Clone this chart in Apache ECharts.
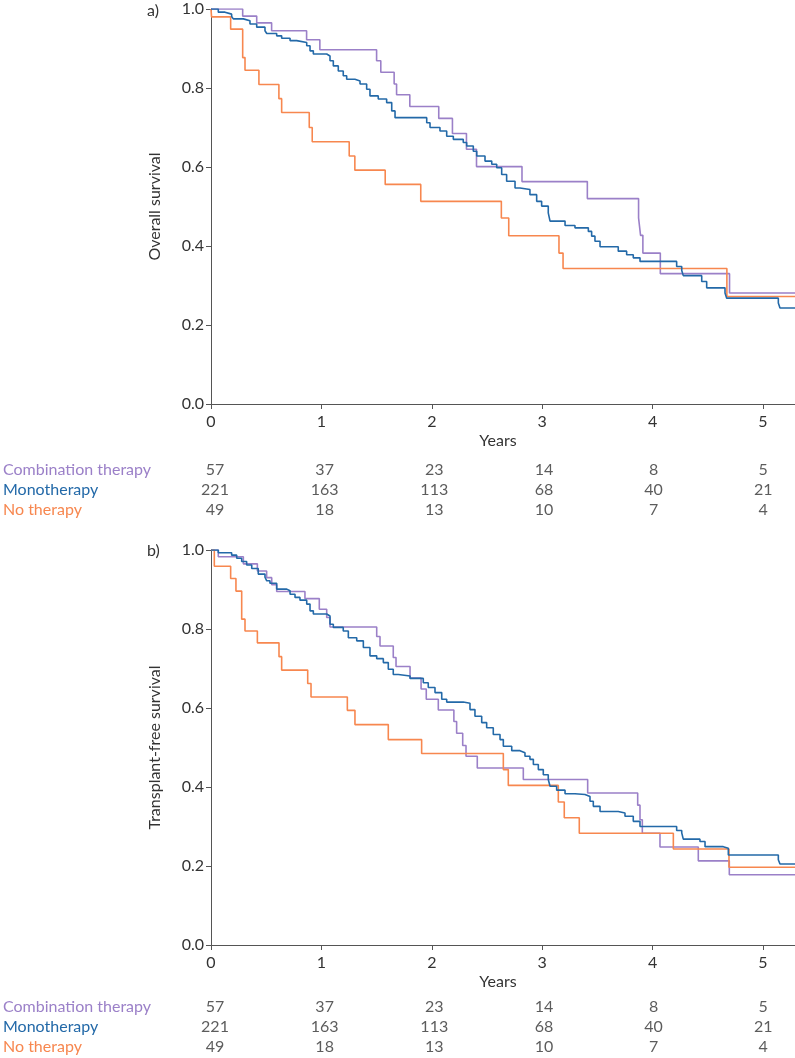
<!DOCTYPE html>
<html>
<head>
<meta charset="utf-8">
<script src="https://cdn.jsdelivr.net/npm/echarts@6/dist/echarts.min.js"></script>
<style>
html,body{margin:0;padding:0;background:#fff;}
#chart{width:795px;height:1058px;}
</style>
</head>
<body>
<div id="chart"></div>
<script>
// ---------- DATA ----------
const yearTicks = [0, 1, 2, 3, 4, 5];
const groups = ['Combination therapy', 'Monotherapy', 'No therapy'];

// numbers at risk (same in both panels)
const riskCombination = [57, 37, 23, 14, 8, 5];
const riskMonotherapy = [221, 163, 113, 68, 40, 21];
const riskNoTherapy = [49, 18, 13, 10, 7, 4];

// Panel a) Overall survival — [years, survival] at each step
const osCombination = [[0,1.0],[0.287,0.982],[0.414,0.965],[0.549,0.945],[0.866,0.922],[0.986,0.897],[1.500,0.869],[1.538,0.840],[1.659,0.810],[1.681,0.783],[1.801,0.753],[2.063,0.723],[2.187,0.685],[2.314,0.645],[2.405,0.601],[2.817,0.563],[3.409,0.520],[3.873,0.471],[3.891,0.427],[3.912,0.382],[4.070,0.330],[4.697,0.281],[5.29,0.281]];
const osMonotherapy = [[0,1.0],[0.066,0.992],[0.127,0.987],[0.187,0.981],[0.202,0.975],[0.293,0.970],[0.353,0.962],[0.414,0.954],[0.489,0.945],[0.505,0.938],[0.595,0.932],[0.640,0.926],[0.716,0.920],[0.776,0.915],[0.867,0.907],[0.897,0.894],[0.927,0.886],[1.048,0.881],[1.078,0.869],[1.108,0.856],[1.153,0.843],[1.198,0.831],[1.229,0.822],[1.304,0.818],[1.350,0.810],[1.410,0.797],[1.440,0.780],[1.515,0.772],[1.591,0.763],[1.637,0.742],[1.667,0.725],[1.954,0.712],[1.984,0.700],[2.074,0.691],[2.135,0.678],[2.195,0.670],[2.285,0.662],[2.316,0.653],[2.376,0.640],[2.407,0.628],[2.482,0.615],[2.543,0.607],[2.588,0.598],[2.633,0.581],[2.678,0.564],[2.754,0.547],[2.799,0.543],[2.889,0.530],[2.950,0.513],[2.995,0.501],[3.055,0.484],[3.071,0.463],[3.207,0.452],[3.297,0.446],[3.418,0.437],[3.448,0.425],[3.478,0.412],[3.524,0.398],[3.689,0.387],[3.765,0.378],[3.825,0.370],[3.886,0.361],[4.218,0.348],[4.264,0.338],[4.278,0.325],[4.445,0.310],[4.490,0.294],[4.656,0.281],[4.671,0.268],[5.139,0.256],[5.154,0.243],[5.29,0.243]];
const osNoTherapy = [[0,1.0],[0.005,0.980],[0.178,0.949],[0.287,0.877],[0.308,0.845],[0.434,0.809],[0.615,0.773],[0.640,0.738],[0.890,0.700],[0.917,0.664],[1.252,0.628],[1.303,0.592],[1.578,0.556],[1.900,0.513],[2.630,0.471],[2.697,0.426],[3.152,0.382],[3.189,0.343],[4.673,0.272],[5.29,0.272]];

// Panel b) Transplant-free survival
const tfsCombination = [[0,1.0],[0.066,0.983],[0.293,0.965],[0.420,0.947],[0.504,0.930],[0.550,0.912],[0.595,0.895],[0.851,0.877],[0.981,0.850],[1.048,0.829],[1.078,0.805],[1.501,0.781],[1.531,0.757],[1.651,0.728],[1.676,0.705],[1.803,0.676],[1.903,0.648],[1.950,0.622],[2.059,0.595],[2.200,0.566],[2.225,0.536],[2.280,0.505],[2.310,0.478],[2.412,0.448],[2.829,0.419],[3.412,0.385],[3.865,0.354],[3.886,0.317],[3.907,0.283],[4.067,0.248],[4.414,0.213],[4.695,0.178],[5.29,0.178]];
const tfsMonotherapy = [[0,1.0],[0.066,0.993],[0.187,0.987],[0.233,0.979],[0.278,0.971],[0.323,0.962],[0.369,0.953],[0.428,0.939],[0.489,0.931],[0.505,0.922],[0.534,0.916],[0.595,0.901],[0.686,0.897],[0.716,0.888],[0.761,0.880],[0.806,0.873],[0.867,0.863],[0.897,0.846],[0.927,0.838],[1.048,0.833],[1.078,0.812],[1.108,0.804],[1.198,0.795],[1.244,0.778],[1.320,0.770],[1.380,0.753],[1.440,0.732],[1.501,0.725],[1.561,0.715],[1.606,0.698],[1.651,0.685],[1.697,0.681],[1.803,0.675],[1.923,0.664],[1.968,0.652],[2.029,0.639],[2.090,0.622],[2.135,0.615],[2.285,0.612],[2.346,0.596],[2.391,0.579],[2.452,0.563],[2.497,0.550],[2.557,0.533],[2.618,0.520],[2.648,0.503],[2.724,0.492],[2.799,0.487],[2.844,0.478],[2.889,0.470],[2.920,0.457],[2.965,0.444],[3.010,0.431],[3.055,0.419],[3.071,0.402],[3.131,0.392],[3.207,0.383],[3.297,0.381],[3.388,0.376],[3.433,0.364],[3.463,0.351],[3.524,0.338],[3.689,0.334],[3.750,0.326],[3.825,0.313],[3.886,0.300],[4.218,0.290],[4.264,0.284],[4.278,0.268],[4.429,0.262],[4.475,0.249],[4.640,0.245],[4.686,0.228],[5.139,0.216],[5.154,0.205],[5.29,0.205]];
const tfsNoTherapy = [[0,1.0],[0.03,0.959],[0.178,0.928],[0.226,0.896],[0.278,0.825],[0.308,0.795],[0.420,0.765],[0.616,0.730],[0.640,0.696],[0.876,0.662],[0.906,0.628],[1.235,0.594],[1.304,0.558],[1.606,0.520],[1.908,0.485],[2.648,0.444],[2.693,0.404],[3.146,0.362],[3.200,0.322],[3.336,0.283],[4.188,0.243],[4.692,0.197],[5.29,0.197]];

// ---------- STYLE ----------
const FONT = 'Lato';
const FS = 16;
const TXT = '#333333';
const AXIS = '#555555';
const colors = ['#9b80c8', '#2369a8', '#f7874f'];
const X_MAX = 5.29;

const chart = echarts.init(document.getElementById('chart'), null, {renderer: 'canvas'});

function mainX(gridIndex) {
  return {
    type: 'value', gridIndex, min: 0, max: X_MAX, interval: 1,
    name: 'Years', nameLocation: 'middle', nameGap: 29,
    nameTextStyle: {fontFamily: FONT, fontSize: FS, color: TXT, padding: [0, 10, 0, 0]},
    axisLine: {show: true, lineStyle: {color: AXIS, width: 1}},
    axisTick: {show: true, length: 5, lineStyle: {color: AXIS}},
    axisLabel: {fontFamily: FONT, fontSize: FS, color: TXT, margin: 10, showMaxLabel: false},
    splitLine: {show: false}
  };
}
function mainY(gridIndex, title) {
  return {
    type: 'value', gridIndex, min: 0, max: 1, interval: 0.2,
    name: title, nameLocation: 'middle', nameGap: 48, nameRotate: 90,
    nameTextStyle: {fontFamily: FONT, fontSize: FS, color: TXT},
    axisLine: {show: true, lineStyle: {color: AXIS, width: 1}},
    axisTick: {show: true, length: 5, lineStyle: {color: AXIS}},
    axisLabel: {fontFamily: FONT, fontSize: FS, color: TXT, margin: 7,
      formatter: v => v.toFixed(1)},
    splitLine: {show: false}
  };
}
function riskX(gridIndex) {
  return {type: 'value', gridIndex, min: 0, max: X_MAX, show: false};
}
function riskY(gridIndex) {
  return {
    type: 'category', gridIndex, data: groups, inverse: true,
    axisLine: {show: false}, axisTick: {show: false}, splitLine: {show: false},
    axisLabel: {fontFamily: FONT, fontSize: FS, align: 'left', margin: 212, interval: 0,
      hideOverlap: false,
      color: (v, i) => colors[groups.indexOf(v)]}
  };
}
function km(name, data, c, xi) {
  return {
    name, type: 'line', step: 'end', data, xAxisIndex: xi, yAxisIndex: xi,
    showSymbol: false, symbol: 'none', clip: true,
    lineStyle: {color: c, width: 1.6}, itemStyle: {color: c},
    z: name === 'Monotherapy' ? 3 : 2, animation: false
  };
}
function riskSeries(xi) {
  const rows = [riskCombination, riskMonotherapy, riskNoTherapy];
  const data = [];
  rows.forEach((r, gi) => r.forEach((v, k) => data.push([yearTicks[k], groups[gi], v])));
  return {
    type: 'scatter', xAxisIndex: xi, yAxisIndex: xi, symbolSize: 0, data,
    label: {show: true, position: 'inside', fontFamily: FONT, fontSize: FS, color: TXT,
      formatter: p => String(p.value[2])},
    labelLayout: {hideOverlap: false},
    animation: false, silent: true
  };
}

chart.setOption({
  backgroundColor: '#ffffff',
  animation: false,
  textStyle: {fontFamily: FONT},
  grid: [
    {left: 211, top: 9, width: 584, height: 395},
    {left: 211, top: 550, width: 584, height: 395},
    {left: 211, top: 460, width: 584, height: 60},
    {left: 211, top: 997, width: 584, height: 60}
  ],
  xAxis: [mainX(0), mainX(1), riskX(2), riskX(3)],
  yAxis: [mainY(0, 'Overall survival'), mainY(1, 'Transplant-free survival'), riskY(2), riskY(3)],
  graphic: [
    {type: 'text', left: 147, top: 3, style: {text: 'a)', fontFamily: FONT, fontSize: FS, fill: TXT}},
    {type: 'text', left: 147, top: 543, style: {text: 'b)', fontFamily: FONT, fontSize: FS, fill: TXT}}
  ],
  series: [
    km('Combination therapy', osCombination, colors[0], 0),
    km('Monotherapy', osMonotherapy, colors[1], 0),
    km('No therapy', osNoTherapy, colors[2], 0),
    km('Combination therapy', tfsCombination, colors[0], 1),
    km('Monotherapy', tfsMonotherapy, colors[1], 1),
    km('No therapy', tfsNoTherapy, colors[2], 1),
    riskSeries(2),
    riskSeries(3)
  ]
});
</script>
</body>
</html>
